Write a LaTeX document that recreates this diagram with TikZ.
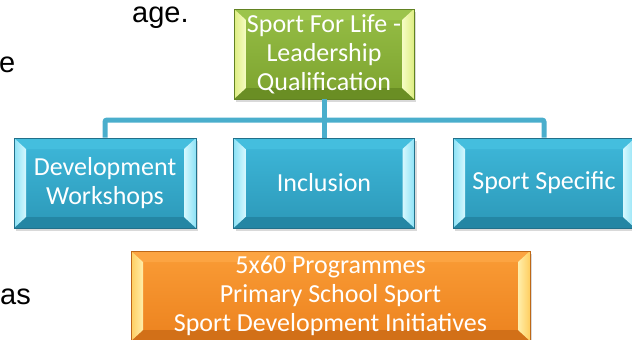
\documentclass[tikz,border=0pt]{standalone}
\usepackage{fontspec}
\usetikzlibrary{shadows}

\newfontfamily\boxfont{Carlito}
\newfontfamily\pagefont{Liberation Sans}
\newcommand\boxtext{\boxfont\fontsize{26pt}{29pt}\selectfont}
\newcommand\pagetext{\pagefont\fontsize{29pt}{32pt}\selectfont}

% green
\definecolor{grnTop}{RGB}{150,190,70}
\definecolor{grnBot}{RGB}{124,162,46}
\definecolor{grnUp}{RGB}{156,196,76}
\definecolor{grnLow}{RGB}{106,142,36}
\definecolor{grnSide}{RGB}{222,238,130}
\definecolor{grnGlow}{RGB}{246,252,196}
\definecolor{grnEdge}{RGB}{98,130,34}
% blue
\definecolor{bluTop}{RGB}{62,184,218}
\definecolor{bluBot}{RGB}{44,152,184}
\definecolor{bluUp}{RGB}{68,190,222}
\definecolor{bluLow}{RGB}{36,134,164}
\definecolor{bluSide}{RGB}{140,226,246}
\definecolor{bluGlow}{RGB}{214,248,254}
\definecolor{bluEdge}{RGB}{34,112,138}
% orange
\definecolor{orgTop}{RGB}{250,156,54}
\definecolor{orgBot}{RGB}{236,130,30}
\definecolor{orgUp}{RGB}{252,164,66}
\definecolor{orgLow}{RGB}{210,112,24}
\definecolor{orgSide}{RGB}{255,206,96}
\definecolor{orgGlow}{RGB}{255,238,170}
\definecolor{orgEdge}{RGB}{190,104,24}
% lines
\definecolor{connBlue}{RGB}{74,174,204}

\tikzset{
  bevelbox/.style={
    rectangle, draw=#1Edge, line width=0.6pt,
    minimum height=90pt, inner sep=0pt,
    text=white, font=\boxtext, align=center,
    top color=#1Top, bottom color=#1Bot,
    drop shadow={shadow xshift=2pt, shadow yshift=-3pt, opacity=0.3},
    path picture={
      \coordinate (nw) at (path picture bounding box.north west);
      \coordinate (ne) at (path picture bounding box.north east);
      \coordinate (sw) at (path picture bounding box.south west);
      \coordinate (se) at (path picture bounding box.south east);
      \fill[#1Up] (nw) -- (ne) -- ([xshift=-12pt,yshift=-11pt]ne) -- ([xshift=12pt,yshift=-11pt]nw) -- cycle;
      \fill[#1Low] (sw) -- (se) -- ([xshift=-12pt,yshift=11pt]se) -- ([xshift=12pt,yshift=11pt]sw) -- cycle;
      \shade[left color=#1Side, right color=#1Glow] (nw) -- ([xshift=12pt,yshift=-11pt]nw) -- ([xshift=12pt,yshift=11pt]sw) -- (sw) -- cycle;
      \shade[left color=#1Glow, right color=#1Side] (ne) -- ([xshift=-12pt,yshift=-11pt]ne) -- ([xshift=-12pt,yshift=11pt]se) -- (se) -- cycle;
    }
  },
  conn/.style={draw=connBlue, line width=5pt, rounded corners=2pt},
  pageword/.style={inner sep=0pt, font=\pagetext, text=black}
}

\begin{document}
\begin{tikzpicture}[x=1pt,y=-1pt]
		\useasboundingbox (0,0) rectangle (632,340);

		% stray words of the page behind
		\node[pageword, anchor=base west] (age) at (132,22) {age.};
		\node[pageword, anchor=base west] (e) at (-1,72) {e};
		\node[pageword, anchor=base east] (as) at (31,304) {as};

		% boxes
		\node[bevelbox=grn, minimum width=180pt] (sfl) at (324,54) {Sport For Life -\\Leadership\\Qualification};

		\node[bevelbox=blu, minimum width=182pt] (dev) at (105,183) {Development\\Workshops};
		\node[bevelbox=blu, minimum width=181pt] (incl) at (324,183) {Inclusion};
		\node[bevelbox=blu, minimum width=182pt] (spec) at (544,183) {Sport Specific};

		\node[bevelbox=org, minimum width=399pt] (prog) at (330.5,296) {5x60 Programmes\\Primary School Sport\\Sport Development Initiatives};

		% tree lines
		\coordinate (bar) at (324,120);
		\draw[conn] (sfl.south) -- (bar);
		\draw[conn] (dev.north) |- (bar) -| (spec.north);
		\draw[conn] (bar) -- (incl.north);
	\end{tikzpicture}
\end{document}
